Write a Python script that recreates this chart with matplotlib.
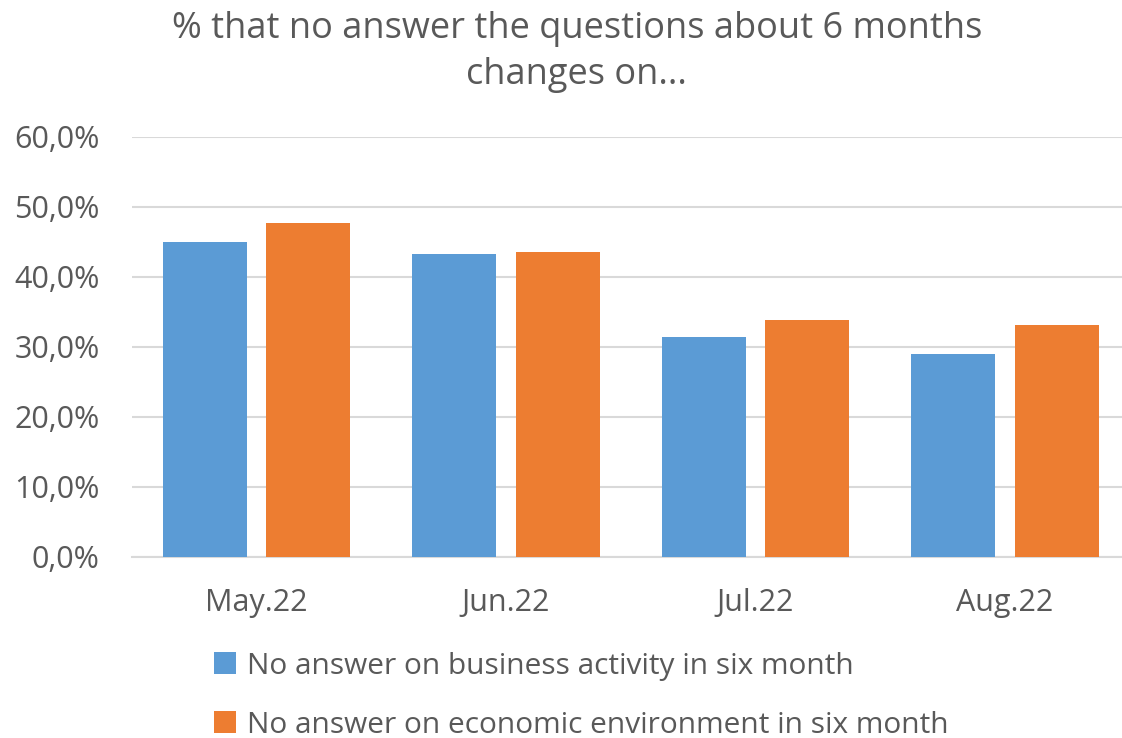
import matplotlib.pyplot as plt
import numpy as np
from matplotlib.ticker import FuncFormatter

plt.rcParams['font.family'] = ['Open Sans', 'DejaVu Sans']

# Share of respondents without an answer, by survey month
months = ['May.22', 'Jun.22', 'Jul.22', 'Aug.22']
business = [45.0, 43.3, 31.4, 29.0]
economic = [47.7, 43.6, 33.9, 33.2]
labels = ['No answer on business activity in six month',
          'No answer on economic environment in six month']

text_color = '#595959'
grid_color = '#d9d9d9'

fig = plt.figure(figsize=(11.22, 7.38), dpi=100)
ax = fig.add_axes([0.1174, 0.2453, 0.8895, 0.5691])

x = np.arange(len(months))
w = 0.337
b1 = ax.bar(x - 0.207, business, w, color='#5B9BD5', label=labels[0], zorder=3)
b2 = ax.bar(x + 0.207, economic, w, color='#ED7D31', label=labels[1], zorder=3)

ax.set_xlim(-0.5, len(months) - 0.5)
ax.set_ylim(0, 60)
ax.set_yticks(np.arange(0, 61, 10))
ax.yaxis.set_major_formatter(FuncFormatter(lambda v, p: f'{v:.1f}%'.replace('.', ',')))
ax.set_xticks(x)
ax.set_xticklabels(months)

ax.grid(axis='y', color=grid_color, linewidth=1.5, zorder=0)
for side in ['top', 'right', 'left']:
    ax.spines[side].set_visible(False)
ax.spines['bottom'].set_color(grid_color)
ax.spines['bottom'].set_linewidth(1.5)
ax.tick_params(length=0, colors=text_color, labelsize=22)
ax.tick_params(axis='y', pad=23)
ax.tick_params(axis='x', pad=22)

fig.text(0.514, 0.985, '% that no answer the questions about 6 months\nchanges on...',
         ha='center', va='top', fontsize=26, color=text_color, linespacing=1.35)

leg = fig.legend(handles=[b1, b2], loc='upper left', bbox_to_anchor=(0.18, 0.133),
                 ncol=1, frameon=False, fontsize=21.5, handlelength=0.75, handleheight=0.75,
                 handletextpad=0.37, labelspacing=1.0, borderaxespad=0)
for t in leg.get_texts():
    t.set_color(text_color)

fig.savefig('out.png', dpi=100)
